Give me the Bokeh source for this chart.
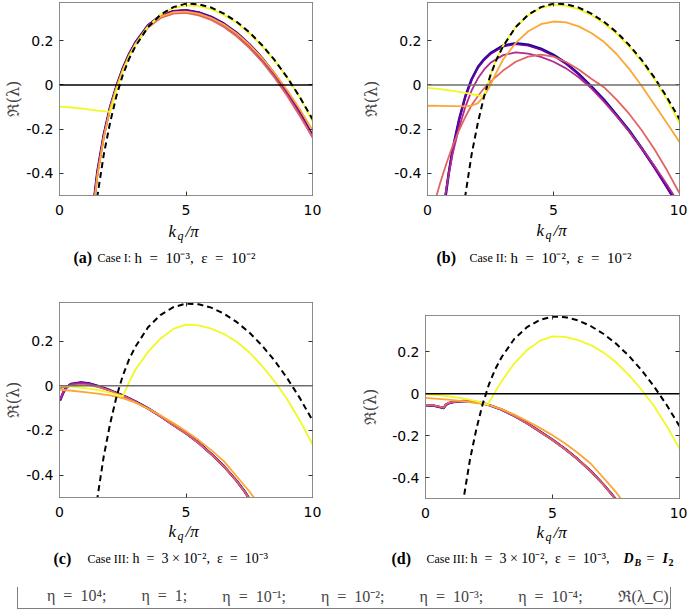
import math
from bokeh.plotting import figure
from bokeh.models import (Range1d, FixedTicker, CustomJSTickFormatter, Span, Label,
                          LinearAxis, Legend, LegendItem)
from bokeh.layouts import column, row
from bokeh.embed import file_html
from bokeh.resources import INLINE

# ---------------- data ----------------
X_TICKS = [0, 5, 10]
Y_TICKS = [-0.4, -0.2, 0, 0.2]
ETA_LABELS = ["η\u2002=\u200210⁴;", "η\u2002=\u20021;", "η\u2002=\u200210⁻¹;", "η\u2002=\u200210⁻²;",
              "η\u2002=\u200210⁻³;", "η\u2002=\u200210⁻⁴;"]
CRIT_LABEL = "ℜ(λ_C)"
ETA_COLORS = ["#0d0887", "#6a00a8", "#b12a90", "#e16462", "#fca636", "#f0f921"]

# dashed critical curve Re(lambda_C) (same in all panels)
crit_x = [1.0, 1.25, 1.5, 1.75, 2.0, 2.25, 2.5, 2.75, 3.0, 3.5, 4.0, 4.5, 5.0, 5.5, 6.0, 6.5, 7.0, 7.5, 8.0, 8.5, 9.0, 9.5, 10.0]
crit_y = [-1.05, -0.74, -0.50, -0.315, -0.17, -0.05, 0.045, 0.118, 0.175, 0.262, 0.318, 0.352, 0.368, 0.365, 0.35, 0.323, 0.286, 0.239, 0.181, 0.113, 0.034, -0.055, -0.155]

# panel (a): Case I
a_x = [1.0, 1.25, 1.5, 1.75, 2.0, 2.25, 2.5, 2.75, 3.0, 3.5, 4.0, 4.5, 5.0, 5.5, 6.0, 6.5, 7.0, 7.5, 8.0, 8.5, 9.0, 9.5, 10.0]
a_eta1e4 = [-0.95, -0.63, -0.39, -0.225, -0.10, -0.005, 0.075, 0.14, 0.192, 0.27, 0.314, 0.334, 0.338, 0.328, 0.308, 0.277, 0.236, 0.185, 0.123, 0.05, -0.032, -0.125, -0.228]
a_eta1 = [-0.95, -0.63, -0.39, -0.225, -0.10, -0.005, 0.075, 0.14, 0.192, 0.27, 0.314, 0.334, 0.338, 0.328, 0.308, 0.277, 0.236, 0.185, 0.123, 0.05, -0.032, -0.125, -0.228]
a_eta1em1 = [-0.97, -0.645, -0.4, -0.232, -0.105, -0.01, 0.07, 0.135, 0.187, 0.265, 0.308, 0.328, 0.332, 0.322, 0.302, 0.27, 0.228, 0.176, 0.113, 0.04, -0.043, -0.135, -0.237]
a_eta1em2 = [-0.98, -0.65, -0.405, -0.236, -0.108, -0.012, 0.067, 0.132, 0.183, 0.26, 0.303, 0.323, 0.326, 0.315, 0.294, 0.262, 0.22, 0.168, 0.106, 0.033, -0.05, -0.14, -0.235]
a_eta1em3 = [-1.0, -0.66, -0.41, -0.24, -0.11, -0.014, 0.066, 0.132, 0.185, 0.264, 0.309, 0.329, 0.332, 0.323, 0.303, 0.273, 0.233, 0.183, 0.123, 0.054, -0.024, -0.11, -0.205]
a_y4_x = [0.0, 0.5, 1.0, 1.5, 2.0, 2.25, 2.5, 2.75, 3.0, 3.5, 4.0, 4.5, 5.0, 5.5, 6.0, 6.5, 7.0, 7.5, 8.0, 8.5, 9.0, 9.5, 10.0]
a_eta1em4 = [-0.098, -0.102, -0.108, -0.116, -0.122, -0.025, 0.06, 0.128, 0.182, 0.265, 0.318, 0.348, 0.36, 0.357, 0.343, 0.317, 0.281, 0.234, 0.177, 0.11, 0.033, -0.055, -0.165]

# panel (b): Case II
b_x_hi = [0.5, 0.71, 0.85, 1.0, 1.25, 1.5, 1.75, 2.0, 2.25, 2.5, 3.0, 3.5, 4.0, 4.5, 5.0, 5.5, 6.0, 6.5, 7.0, 7.5, 8.0, 8.5, 9.0, 9.5, 10.0]
b_eta1e4 = [-0.69, -0.51, -0.395, -0.29, -0.158, -0.052, 0.026, 0.081, 0.117, 0.144, 0.178, 0.189, 0.182, 0.164, 0.136, 0.099, 0.05, -0.006, -0.066, -0.135, -0.205, -0.285, -0.37, -0.46, -0.555]
b_eta1 = [-0.68, -0.5, -0.39, -0.29, -0.16, -0.055, 0.022, 0.077, 0.113, 0.14, 0.174, 0.185, 0.178, 0.16, 0.132, 0.095, 0.047, -0.01, -0.07, -0.14, -0.21, -0.29, -0.375, -0.465, -0.56]
b_x_m = [0.55, 0.7, 0.85, 1.0, 1.25, 1.5, 1.75, 2.0, 2.25, 2.5, 3.0, 3.5, 4.0, 4.5, 5.0, 5.5, 6.0, 6.5, 7.0, 7.5, 8.0, 8.5, 9.0, 9.5, 10.0]
b_eta1em1 = [-0.62, -0.5, -0.4, -0.31, -0.195, -0.1, -0.025, 0.03, 0.07, 0.1, 0.135, 0.147, 0.142, 0.127, 0.105, 0.075, 0.035, -0.015, -0.075, -0.14, -0.21, -0.285, -0.365, -0.45, -0.54]
b_x_s = [0.2, 0.36, 0.5, 0.75, 1.0, 1.25, 1.5, 1.75, 2.0, 2.25, 2.5, 3.0, 3.5, 4.0, 4.5, 5.0, 5.5, 6.0, 6.5, 7.0, 7.5, 8.0, 8.5, 9.0, 9.5, 10.0]
b_eta1em2 = [-0.57, -0.5, -0.445, -0.355, -0.275, -0.205, -0.145, -0.092, -0.05, -0.015, 0.015, 0.065, 0.105, 0.128, 0.137, 0.128, 0.104, 0.07, 0.028, -0.01, -0.066, -0.13, -0.205, -0.29, -0.385, -0.49]
b_x_o = [0.0, 0.5, 1.0, 1.5, 1.75, 2.0, 2.25, 2.5, 2.75, 3.0, 3.5, 4.0, 4.5, 5.0, 5.5, 6.0, 6.5, 7.0, 7.5, 8.0, 8.5, 9.0, 9.5, 10.0]
b_eta1em3 = [-0.094, -0.095, -0.096, -0.097, -0.094, -0.082, -0.05, 0.0, 0.06, 0.115, 0.19, 0.243, 0.275, 0.287, 0.283, 0.265, 0.235, 0.195, 0.14, 0.073, -0.005, -0.088, -0.172, -0.258]
b_x_y = [0.0, 0.5, 1.0, 1.5, 2.0, 2.25, 2.5, 2.75, 3.0, 3.5, 4.0, 4.5, 5.0, 5.5, 6.0, 6.5, 7.0, 7.5, 8.0, 8.5, 9.0, 9.5, 10.0]
b_eta1em4 = [-0.013, -0.019, -0.027, -0.036, -0.047, -0.053, 0.045, 0.12, 0.178, 0.262, 0.316, 0.349, 0.362, 0.358, 0.343, 0.316, 0.279, 0.232, 0.174, 0.106, 0.027, -0.065, -0.172]

# panel (c): Case III
c_x_p = [0.02, 0.05, 0.15, 0.25, 0.45, 0.85, 1.2, 1.55, 2.0, 2.5, 3.0, 3.5, 4.0, 4.5, 5.0, 5.5, 6.0, 6.5, 7.0, 7.3, 7.5]
c_eta1e4 = [-0.065, -0.058, -0.03, -0.01, 0.008, 0.015, 0.01, -0.002, -0.02, -0.043, -0.07, -0.101, -0.136, -0.175, -0.212, -0.255, -0.305, -0.36, -0.425, -0.47, -0.505]
c_eta1 = [-0.065, -0.058, -0.03, -0.01, 0.008, 0.015, 0.01, -0.002, -0.02, -0.043, -0.07, -0.101, -0.136, -0.175, -0.212, -0.255, -0.305, -0.36, -0.425, -0.47, -0.505]
c_eta1em1 = [-0.06, -0.055, -0.028, -0.01, 0.006, 0.012, 0.008, -0.004, -0.022, -0.045, -0.072, -0.103, -0.138, -0.177, -0.214, -0.257, -0.307, -0.362, -0.427, -0.472, -0.507]
c_x_s = [0.0, 0.25, 0.5, 0.85, 1.2, 1.55, 2.0, 2.5, 3.0, 3.5, 4.0, 4.5, 5.0, 5.5, 6.0, 6.5, 7.0, 7.3, 7.5]
c_eta1em2 = [-0.012, -0.004, 0.001, 0.004, 0.002, -0.006, -0.022, -0.045, -0.071, -0.102, -0.137, -0.176, -0.213, -0.256, -0.306, -0.361, -0.426, -0.471, -0.506]
c_x_o = [0.0, 0.5, 1.0, 1.5, 2.0, 2.5, 3.0, 3.5, 4.0, 4.5, 5.0, 5.5, 6.0, 6.5, 7.0, 7.5, 7.75]
c_eta1em3 = [-0.018, -0.022, -0.028, -0.035, -0.043, -0.055, -0.075, -0.102, -0.133, -0.167, -0.203, -0.243, -0.288, -0.338, -0.405, -0.472, -0.51]
c_x_y = [0.0, 0.5, 1.0, 1.5, 2.0, 2.5, 2.75, 3.0, 3.5, 4.0, 4.5, 5.0, 5.5, 6.0, 6.5, 7.0, 7.5, 8.0, 8.5, 9.0, 9.5, 10.0]
c_eta1em4 = [0.0, -0.004, -0.01, -0.018, -0.03, -0.047, 0.015, 0.072, 0.152, 0.212, 0.255, 0.274, 0.271, 0.256, 0.232, 0.197, 0.15, 0.09, 0.02, -0.06, -0.155, -0.262]

# panel (d): Case III with D_B = I_2
d_x_p = [0.0, 0.35, 0.72, 0.8, 0.9, 1.1, 1.5, 2.0, 2.45, 3.0, 3.5, 4.0, 4.5, 5.0, 5.5, 6.0, 6.5, 7.0, 7.3, 7.5]
d_eta1e4 = [-0.055, -0.058, -0.068, -0.053, -0.046, -0.04, -0.035, -0.04, -0.052, -0.076, -0.106, -0.141, -0.18, -0.22, -0.264, -0.313, -0.368, -0.432, -0.475, -0.505]
d_eta1 = [-0.055, -0.058, -0.068, -0.053, -0.046, -0.04, -0.035, -0.04, -0.052, -0.076, -0.106, -0.141, -0.18, -0.22, -0.264, -0.313, -0.368, -0.432, -0.475, -0.505]
d_eta1em1 = [-0.054, -0.057, -0.067, -0.052, -0.045, -0.039, -0.034, -0.04, -0.052, -0.076, -0.106, -0.141, -0.18, -0.22, -0.264, -0.313, -0.368, -0.432, -0.475, -0.505]
d_eta1em2 = [-0.053, -0.056, -0.066, -0.051, -0.044, -0.039, -0.034, -0.04, -0.052, -0.076, -0.106, -0.142, -0.181, -0.221, -0.265, -0.314, -0.369, -0.433, -0.476, -0.506]
d_x_o = [0.0, 0.5, 1.0, 1.5, 2.0, 2.45, 3.0, 3.5, 4.0, 4.5, 5.0, 5.5, 6.0, 6.5, 7.0, 7.5, 7.75]
d_eta1em3 = [-0.02, -0.025, -0.03, -0.037, -0.045, -0.052, -0.074, -0.1, -0.13, -0.163, -0.198, -0.238, -0.283, -0.333, -0.4, -0.47, -0.51]
d_x_y = [0.0, 0.5, 1.0, 1.5, 2.0, 2.45, 2.7, 3.0, 3.5, 4.0, 4.5, 5.0, 5.5, 6.0, 6.5, 7.0, 7.5, 8.0, 8.5, 9.0, 9.5, 10.0]
d_eta1em4 = [-0.003, -0.007, -0.014, -0.024, -0.036, -0.052, 0.0, 0.06, 0.145, 0.208, 0.252, 0.273, 0.271, 0.256, 0.232, 0.197, 0.15, 0.09, 0.02, -0.06, -0.155, -0.262]

# ---------------- styling ----------------
FRAME = "#8c8c8c"
TICK_FONT = "DejaVu Sans"
SERIF = "Liberation Serif"
EN = "\u2002"


def txt(p, x, y, text, size, style="normal", font=SERIF, align="left", baseline="middle"):
    p.add_layout(Label(x=x, y=y, x_units="screen", y_units="screen", text=text,
                       text_font=font, text_font_size=f"{size}px", text_font_style=style,
                       text_align=align, text_baseline=baseline, text_color="black"))


def make_panel(width, height, bl, br, bt, bb, zero_color, ylab_standoff):
    p = figure(width=width, height=height, x_range=Range1d(0, 10), y_range=Range1d(-0.5, 0.373),
               output_backend="svg", toolbar_location=None, tools="",
               min_border_left=bl, min_border_right=br, min_border_top=bt, min_border_bottom=bb)
    p.grid.visible = False
    p.outline_line_color = FRAME
    p.outline_line_width = 1
    fmt = CustomJSTickFormatter(code="return tick == 0 ? '0' : tick.toFixed(1);")
    for ax in p.xaxis:
        ax.ticker = FixedTicker(ticks=X_TICKS)
        ax.major_label_standoff = 9
    for ax in p.yaxis:
        ax.ticker = FixedTicker(ticks=Y_TICKS)
        ax.formatter = fmt
        ax.major_label_standoff = 6
        ax.axis_label = "ℜ(λ)"
        ax.axis_label_text_font = "DejaVu Serif"
        ax.axis_label_text_font_size = "16px"
        ax.axis_label_text_font_style = "normal"
        ax.axis_label_standoff = ylab_standoff
    for ax in list(p.xaxis) + list(p.yaxis):
        ax.axis_line_color = FRAME
        ax.major_tick_in = 4
        ax.major_tick_out = 0
        ax.major_tick_line_color = "#333333"
        ax.minor_tick_line_color = None
        ax.major_label_text_font = TICK_FONT
        ax.major_label_text_font_size = "14px"
        ax.major_label_text_color = "black"
    for loc, ticks in (("right", Y_TICKS), ("above", X_TICKS)):
        ax = LinearAxis(ticker=FixedTicker(ticks=ticks), axis_line_color=FRAME,
                        major_tick_in=4, major_tick_out=0, major_tick_line_color="#333333",
                        minor_tick_line_color=None, major_label_text_font_size="0px",
                        major_label_text_color=None, major_label_standoff=0)
        p.add_layout(ax, loc)
    p.add_layout(Span(location=0, dimension="width", line_color=zero_color, line_width=1.6))
    return p


def draw(p, series):
    for (xs, ys), color in zip(series, ETA_COLORS):
        p.line(xs, ys, line_color=color, line_width=2.5 if color == ETA_COLORS[0] else 1.8,
               line_join="round")
    p.line(crit_x, crit_y, line_color="black", line_width=2, line_dash="6 4")


def strip(width, height):
    s = figure(width=width, height=height, x_range=Range1d(0, 1), y_range=Range1d(0, 1),
               output_backend="svg", toolbar_location=None, tools="", min_border=0,
               x_axis_location=None, y_axis_location=None)
    s.outline_line_color = None
    s.grid.visible = False
    return s


def klabel(s, x, y):
    txt(s, x, y, "k", 17, style="italic")
    txt(s, x + 9, y - 4, "q", 12, style="italic")
    txt(s, x + 17, y, "/π", 17, style="italic")


def caption(s, y, tag, tag_x, case, case_x, math_text, math_x, math_size):
    txt(s, tag_x, y, tag, 16, style="bold")
    txt(s, case_x, y, case, 12)
    txt(s, math_x, y, math_text, math_size)


# ---- row 1 panels
pa = make_panel(344, 219, 59, 32, 2, 24, "black", 0)
draw(pa, [(a_x, a_eta1e4), (a_x, a_eta1), (a_x, a_eta1em1), (a_x, a_eta1em2), (a_x, a_eta1em3), (a_y4_x, a_eta1em4)])
pb = make_panel(343, 219, 83, 8, 2, 24, "#6e6e6e", 10)
draw(pb, [(b_x_hi, b_eta1e4), (b_x_hi, b_eta1), (b_x_m, b_eta1em1), (b_x_s, b_eta1em2), (b_x_o, b_eta1em3), (b_x_y, b_eta1em4)])

# ---- row 1 captions
sa = strip(344, 71)
klabel(sa, 168, 59)
caption(sa, 33, "(a)", 73, "Case I:", 97, f"h{EN}={EN}10⁻³,{EN}ε{EN}={EN}10⁻²", 134, 15)
sb = strip(343, 71)
klabel(sb, 192, 60)
caption(sb, 33, "(b)", 92, "Case II:", 125, f"h{EN}={EN}10⁻²,{EN}ε{EN}={EN}10⁻²", 166, 15)

# ---- row 2 panels
pc = make_panel(344, 231, 59, 32, 12, 24, "#6e6e6e", 0)
draw(pc, [(c_x_p, c_eta1e4), (c_x_p, c_eta1), (c_x_p, c_eta1em1), (c_x_s, c_eta1em2), (c_x_o, c_eta1em3), (c_x_y, c_eta1em4)])
pd = make_panel(343, 231, 81, 8, 25, 23, "black", 9)
draw(pd, [(d_x_p, d_eta1e4), (d_x_p, d_eta1), (d_x_p, d_eta1em1), (d_x_p, d_eta1em2), (d_x_o, d_eta1em3), (d_x_y, d_eta1em4)])

# ---- row 2 captions
sc = strip(344, 66)
klabel(sc, 168, 56)
caption(sc, 29, "(c)", 53, "Case III:", 87, f"h{EN}={EN}3 × 10⁻²,{EN}ε{EN}={EN}10⁻³", 132, 14)
sd = strip(343, 66)
klabel(sd, 192, 55)
caption(sd, 29, "(d)", 47, "Case III:", 82, f"h{EN}={EN}3 × 10⁻²,{EN}ε{EN}={EN}10⁻³,", 126, 14)
txt(sd, 279, 29, "D", 14, style="bold italic")
txt(sd, 290, 25, "B", 10, style="bold italic")
txt(sd, 302, 29, "=", 14)
txt(sd, 318, 29, "I", 14, style="bold italic")
txt(sd, 324, 25, "2", 10, style="bold")

# ---- legend strip
lf = figure(width=687, height=23, x_range=Range1d(0, 1), y_range=Range1d(0, 1),
            output_backend="svg", toolbar_location=None, tools="", min_border=0,
            x_axis_location=None, y_axis_location=None)
lf.outline_line_color = None
lf.grid.visible = False
items = []
for lab, col in zip(ETA_LABELS, ETA_COLORS):
    r = lf.line(x=[], y=[], line_color=col, line_width=3)
    items.append(LegendItem(label=lab, renderers=[r]))
rc = lf.line(x=[], y=[], line_color="black", line_width=3, line_dash="7 6")
items.append(LegendItem(label=CRIT_LABEL, renderers=[rc]))
leg = Legend(items=items, orientation="horizontal", location=(17, 1), margin=0, padding=1,
             spacing=7, glyph_width=26, glyph_height=16, label_standoff=2, label_height=16,
             label_text_font=SERIF, label_text_font_size="16px", label_text_baseline="middle",
             border_line_color="black", border_line_width=1, background_fill_color="white")
lf.add_layout(leg, "center")

layout = column(row(pa, pb), row(sa, sb), row(column(pc), column(pd)), row(sc, sd), lf)
open("out.html", "w").write(file_html(layout, INLINE))
